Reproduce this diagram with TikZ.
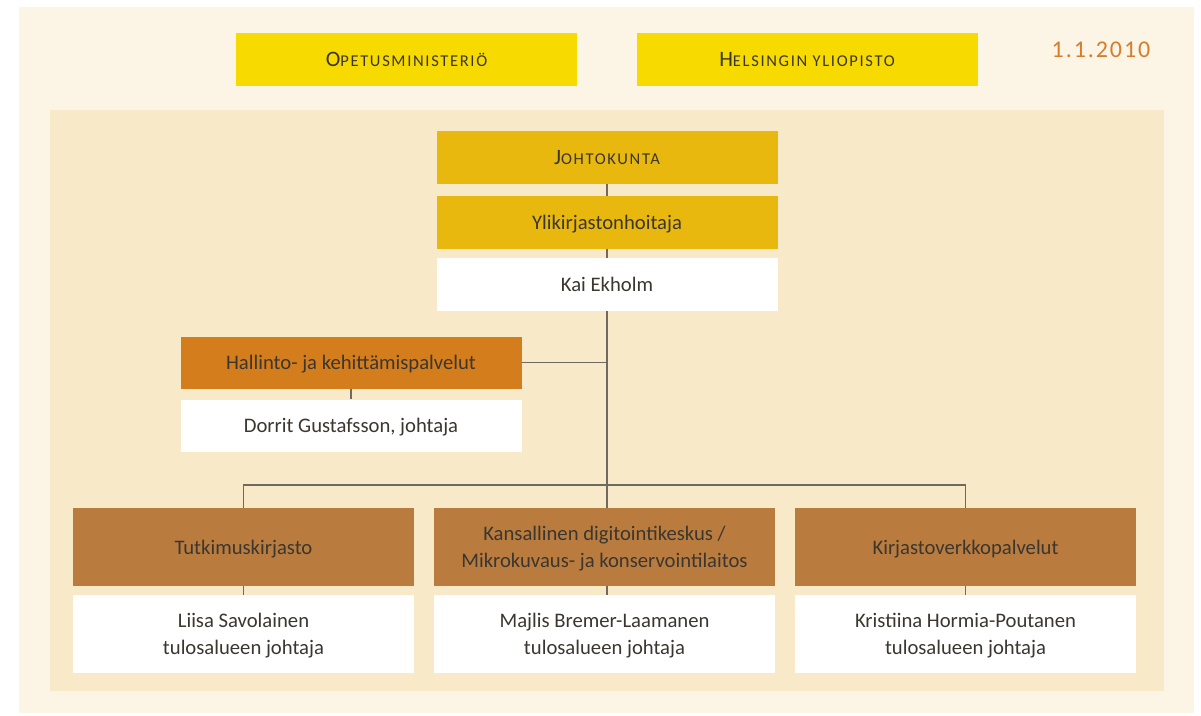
\documentclass[tikz,border=0pt]{standalone}
\usepackage{fontspec}
\setmainfont{Carlito}
\newfontfamily\pvmfontti{Carlito}[LetterSpace=8]
\usetikzlibrary{positioning}
\definecolor{ulkotausta}{HTML}{FCF4E4}
\definecolor{sisatausta}{HTML}{F8EAC8}
\definecolor{keltainen}{HTML}{F7DA00}
\definecolor{kulta}{HTML}{E8B80F}
\definecolor{oranssi}{HTML}{D47D1C}
\definecolor{ruskea}{HTML}{B97C3E}
\definecolor{teksti}{HTML}{3B3630}
\definecolor{viivanvari}{HTML}{6E6A62}
\definecolor{paivays}{HTML}{D47D2C}
\newcommand{\perusfontti}{\fontsize{15.5}{20}\selectfont}
\newcommand{\kapiteeli}[2]{{\fontsize{16.5}{20}\selectfont #1}{\fontsize{12.4}{20}\selectfont\addfontfeature{LetterSpace=10}#2}}
\tikzstyle{laatikko} = [rectangle, minimum width=255.75pt, inner sep=0pt, align=center, text depth=0pt, text=teksti, font=\perusfontti]
\tikzstyle{ylin} = [laatikko, fill=keltainen, minimum height=39.75pt]
\tikzstyle{johto} = [laatikko, fill=kulta, minimum height=39.75pt]
\tikzstyle{nimi} = [laatikko, fill=white, minimum height=39.75pt]
\tikzstyle{hallinto} = [laatikko, fill=oranssi, minimum height=39pt]
\tikzstyle{yksikko} = [laatikko, fill=ruskea, minimum height=58.5pt]
\tikzstyle{johtaja} = [laatikko, fill=white, minimum height=58.5pt]
\tikzstyle{viiva} = [draw=viivanvari, line width=0.8pt]

\begin{document}
\begin{tikzpicture}[x=0.75pt, y=-0.75pt]
                    % tausta
                    \fill [white] (0, 0) rectangle (1201, 715);
                    \useasboundingbox (0, 0) rectangle (1201, 715);
                    \fill [ulkotausta] (19, 7) rectangle (1194, 713);
                    \fill [sisatausta] (50, 110) rectangle (1164, 691);
                    % ylimmat
                    \node [ylin] (opm) at (406.5, 59.5) {\kapiteeli{O}{PETUSMINISTERIÖ}};
                    \node [ylin] (hy) at (807, 59.5) {\kapiteeli{H}{ELSINGIN YLIOPISTO}};
                    \node [text=paivays, font=\pvmfontti\fontsize{18}{20}\selectfont] (pvm) at (1101, 50) {1.1.2010};
                    % johto
                    \node [johto] (johtokunta) at (607, 157.5) {\kapiteeli{J}{OHTOKUNTA}};
                    \node [johto] (ylik) at (607, 222.5) {Ylikirjastonhoitaja};
                    \node [nimi] (kai) at (607, 284.5) {Kai Ekholm};
                    \node [hallinto] (hallinto) at (351, 362.5) {Hallinto- ja kehittämispalvelut};
                    \node [nimi, minimum height=39pt] (dorrit) at (351, 425.5) {Dorrit Gustafsson, johtaja};
                    % tulosalueet
                    \node [yksikko] (tutk) at (243.5, 547) {Tutkimuskirjasto};
                    \node [yksikko] (digi) at (604.5, 547) {Kansallinen digitointikeskus /\\Mikrokuvaus- ja konservointilaitos};
                    \node [yksikko] (kirj) at (965.5, 547) {Kirjastoverkkopalvelut};
                    \node [johtaja] (liisa) at (243.5, 634) {Liisa Savolainen\\tulosalueen johtaja};
                    \node [johtaja] (majlis) at (604.5, 634) {Majlis Bremer-Laamanen\\tulosalueen johtaja};
                    \node [johtaja] (kristiina) at (965.5, 634) {Kristiina Hormia-Poutanen\\tulosalueen johtaja};
                    \coordinate (haara) at (607, 485);
                    % viivat
                    \draw [viiva] (johtokunta) -- (ylik);
                    \draw [viiva] (ylik) -- (kai);
                    \draw [viiva] (kai.south) -- (haara) -- (haara |- digi.north);
                    \draw [viiva] (hallinto.east) -- (hallinto.east -| haara);
                    \draw [viiva] (hallinto) -- (dorrit);
                    \draw [viiva] (tutk.north) -- (tutk.north |- haara) -- (kirj.north |- haara) -- (kirj.north);
                    \draw [viiva] (tutk) -- (liisa);
                    \draw [viiva] (digi.south -| haara) -- (majlis.north -| haara);
                    \draw [viiva] (kirj) -- (kristiina);
                \end{tikzpicture}
\end{document}
